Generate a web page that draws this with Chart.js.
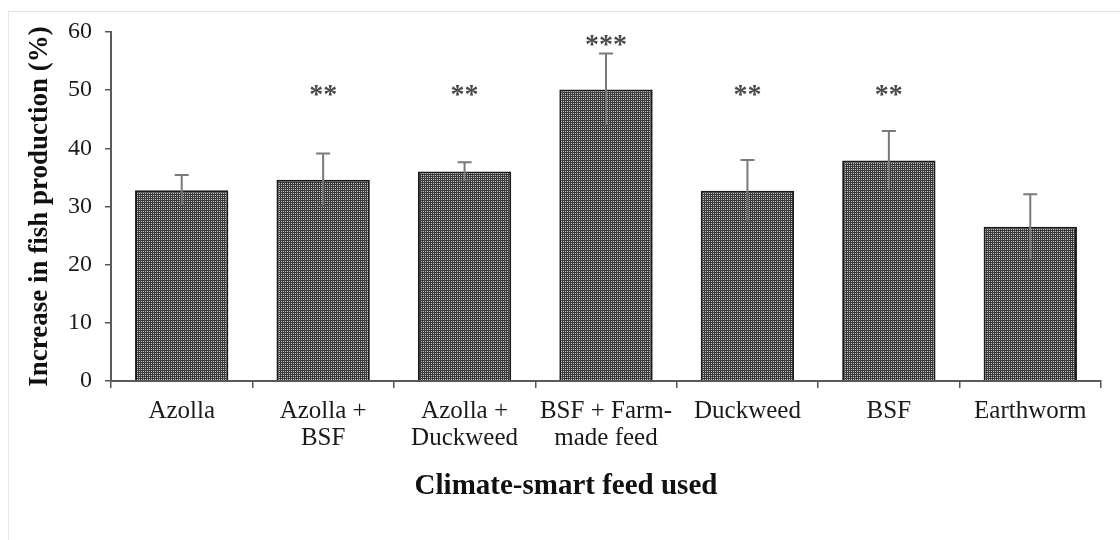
<!DOCTYPE html>
<html>
<head>
<meta charset="utf-8">
<script src="https://cdn.jsdelivr.net/npm/chart.js@4"></script>
<style>
  body { margin: 0; background: #fff; }
  #wrap { position: relative; width: 1120px; height: 540px; overflow: hidden; }
  #frame { position: absolute; left: 8px; top: 11px; right: -2px; bottom: -2px;
           border-top: 1px solid #e4e4e4; border-left: 1px solid #e4e4e4; pointer-events: none; }
</style>
</head>
<body>
<div id="wrap">
  <canvas id="feedChart" width="1120" height="540"></canvas>
  <div id="frame"></div>
</div>
<script>
const categories = [
    'Azolla',
    ['Azolla +', 'BSF'],
    ['Azolla +', 'Duckweed'],
    ['BSF + Farm-', 'made feed'],
    'Duckweed',
    'BSF',
    'Earthworm'
]
const increase = [32.8, 34.6, 36.0, 50.1, 32.7, 37.9, 26.5]
const errors = [2.6, 4.5, 1.6, 6.2, 5.3, 5.1, 5.6]
const stars = ['', '**', '**', '***', '**', '**', '']
const yTicks = [0, 10, 20, 30, 40, 50, 60]
const xTitle = 'Climate-smart feed used'

// dotted fill like the original bars
function dotPattern() {
    const c = document.createElement('canvas')
    c.width = 2
    c.height = 2
    const g = c.getContext('2d')
    g.fillStyle = '#3a3a3a'
    g.fillRect(0, 0, 2, 2)
    g.fillStyle = '#c2c2c2'
    g.fillRect(1, 1, 1, 1)
    return g.createPattern(c, 'repeat')
}

// error bars, significance stars and the x title (centred on the page, like the original)
const extras = {
    id: 'extras',
    afterDatasetsDraw(chart) {
        const ctx = chart.ctx
        const y = chart.scales.y
        const meta = chart.getDatasetMeta(0)
        ctx.save()
        meta.data.forEach((bar, i) => {
            const x = bar.x
            const hi = y.getPixelForValue(increase[i] + errors[i])
            const lo = y.getPixelForValue(increase[i] - errors[i])
            ctx.strokeStyle = '#7a7a7a'
            ctx.lineWidth = 2
            ctx.beginPath()
            ctx.moveTo(x, lo)
            ctx.lineTo(x, hi)
            ctx.moveTo(x - 7, hi)
            ctx.lineTo(x + 7, hi)
            ctx.stroke()
            ctx.strokeStyle = 'rgba(90,90,90,0.6)'
            ctx.beginPath()
            ctx.moveTo(x - 5, lo)
            ctx.lineTo(x + 5, lo)
            ctx.stroke()

            if (stars[i]) {
                const level = stars[i].length === 3 ? 58.7 : 50
                ctx.fillStyle = '#4a4a4a'
                ctx.font = 'bold 28px "Liberation Serif", serif'
                ctx.textAlign = 'center'
                ctx.textBaseline = 'alphabetic'
                ctx.fillText(stars[i], x, y.getPixelForValue(level) + 13)
            }
        })

        ctx.fillStyle = '#111'
        ctx.font = 'bold 29px "Liberation Serif", serif'
        ctx.textAlign = 'center'
        ctx.textBaseline = 'middle'
        ctx.fillText(xTitle, chart.width / 2 + 6, 487)
        ctx.restore()
    }
}

Chart.defaults.font.family = '"Liberation Serif", "Times New Roman", serif'
Chart.defaults.color = '#1a1a1a'

const ctx = document.getElementById('feedChart').getContext('2d')
new Chart(ctx, {
    type: 'bar',
    data: {
        labels: categories,
        datasets: [{
            data: increase,
            backgroundColor: dotPattern(),
            borderColor: '#1a1a1a',
            borderWidth: 2,
            borderSkipped: 'bottom',
            barPercentage: 0.66,
            categoryPercentage: 1
        }]
    },
    options: {
        responsive: false,
        animation: false,
        layout: { padding: { left: 20, top: 32, right: 19, bottom: 32 } },
        plugins: {
            legend: { display: false },
            tooltip: { enabled: false }
        },
        scales: {
            x: {
                grid: {
                    display: true,
                    drawOnChartArea: false,
                    offset: true,
                    tickLength: 7,
                    color: '#555',
                    lineWidth: 1.5
                },
                border: { color: '#5a5a5a', width: 2 },
                ticks: {
                    autoSkip: false,
                    maxRotation: 0,
                    padding: 10,
                    font: { size: 25, lineHeight: 1.08 },
                    color: '#1a1a1a'
                },
                afterFit: (scale) => { scale.height = 127 }
            },
            y: {
                min: 0,
                max: 60,
                afterBuildTicks: (scale) => {
                    scale.ticks = yTicks.map(v => ({ value: v }))
                },
                grid: {
                    drawOnChartArea: false,
                    tickLength: 6,
                    color: '#555',
                    lineWidth: 1.5
                },
                border: { color: '#5a5a5a', width: 2 },
                ticks: {
                    padding: 13,
                    font: { size: 24 },
                    color: '#1a1a1a'
                },
                title: {
                    display: true,
                    text: 'Increase in fish production (%)',
                    font: { size: 27, weight: 'bold' },
                    color: '#111'
                },
                afterFit: (scale) => { scale.width = 91 }
            }
        }
    },
    plugins: [extras]
})
</script>
</body>
</html>
